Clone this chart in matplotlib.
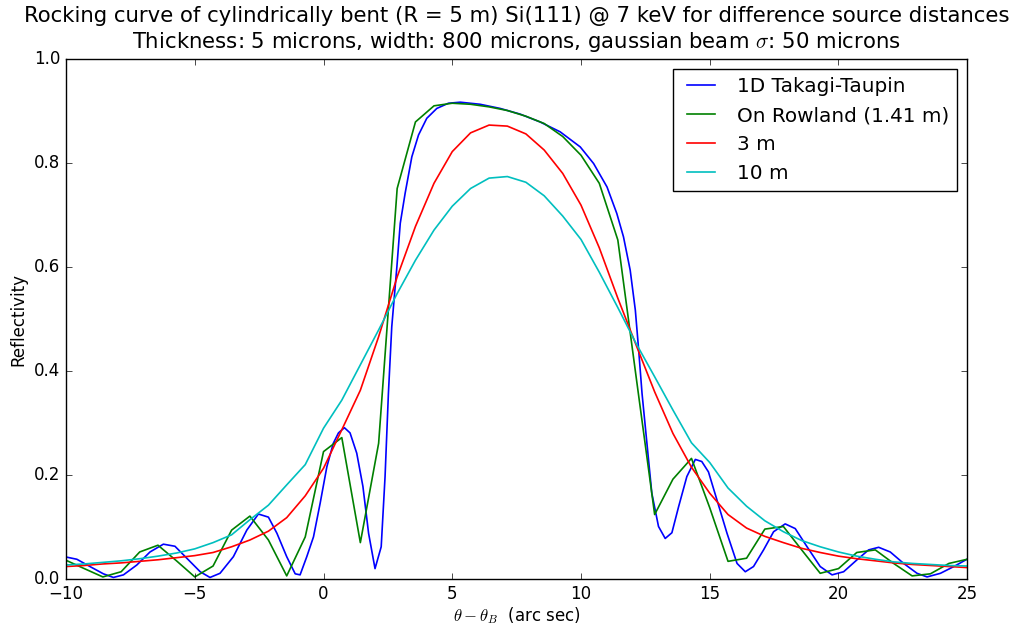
import numpy as np
import matplotlib
matplotlib.use("Agg")
import matplotlib.pyplot as plt

# ---------------- DATA ----------------
# angular grid of the 2D simulations (arc sec)
theta = [-10.00, -9.29, -8.57, -7.86, -7.14, -6.43, -5.71, -5.00, -4.29, -3.57,
         -2.86, -2.14, -1.43, -0.71, 0.00, 0.71, 1.43, 2.14, 2.86, 3.57,
         4.29, 5.00, 5.71, 6.43, 7.14, 7.86, 8.57, 9.29, 10.00, 10.71,
         11.43, 12.14, 12.86, 13.57, 14.29, 15.00, 15.71, 16.43, 17.14, 17.86,
         18.57, 19.29, 20.00, 20.71, 21.43, 22.14, 22.86, 23.57, 24.29, 25.00]

refl_rowland = [0.036, 0.020, 0.004, 0.014, 0.052, 0.065, 0.035, 0.004, 0.025, 0.094,
                0.121, 0.075, 0.006, 0.081, 0.245, 0.272, 0.070, 0.261, 0.751, 0.879,
                0.910, 0.915, 0.913, 0.908, 0.901, 0.890, 0.876, 0.851, 0.815, 0.761,
                0.652, 0.389, 0.124, 0.192, 0.232, 0.137, 0.034, 0.040, 0.096, 0.101,
                0.056, 0.011, 0.020, 0.051, 0.056, 0.030, 0.006, 0.010, 0.030, 0.038]

refl_3m = [0.024, 0.026, 0.029, 0.031, 0.034, 0.037, 0.041, 0.045, 0.051, 0.062,
           0.075, 0.092, 0.118, 0.160, 0.213, 0.287, 0.363, 0.466, 0.581, 0.678,
           0.761, 0.822, 0.858, 0.873, 0.871, 0.856, 0.825, 0.780, 0.719, 0.637,
           0.540, 0.450, 0.360, 0.280, 0.215, 0.165, 0.124, 0.098, 0.082, 0.070,
           0.059, 0.051, 0.044, 0.039, 0.035, 0.031, 0.028, 0.026, 0.024, 0.022]

refl_10m = [0.027, 0.029, 0.032, 0.035, 0.039, 0.044, 0.050, 0.058, 0.070, 0.085,
            0.114, 0.142, 0.181, 0.220, 0.290, 0.344, 0.412, 0.479, 0.549, 0.613,
            0.671, 0.717, 0.751, 0.771, 0.774, 0.763, 0.737, 0.698, 0.653, 0.590,
            0.522, 0.453, 0.389, 0.325, 0.262, 0.224, 0.175, 0.140, 0.112, 0.091,
            0.074, 0.062, 0.052, 0.044, 0.038, 0.033, 0.030, 0.028, 0.026, 0.025]

# 1D Takagi-Taupin solution (finer sampling)
theta_tt = [-9.97, -9.58, -9.07, -8.55, -8.16, -7.77, -7.25, -6.74, -6.22, -5.77,
            -5.31, -4.79, -4.41, -4.02, -3.50, -2.98, -2.53, -2.14, -1.81, -1.43,
            -1.10, -0.91, -0.65, -0.39, -0.13, 0.13, 0.38, 0.58, 0.81, 1.03,
            1.29, 1.53, 1.75, 2.00, 2.24, 2.39, 2.52, 2.65, 2.85, 2.98,
            3.17, 3.43, 3.69, 4.01, 4.40, 4.85, 5.31, 6.08, 6.86, 7.64,
            8.41, 9.19, 9.97, 10.49, 11.01, 11.39, 11.65, 11.91, 12.11, 12.24,
            12.37, 12.56, 12.75, 13.01, 13.27, 13.53, 13.79, 14.11, 14.44, 14.69,
            14.95, 15.28, 15.67, 16.06, 16.38, 16.70, 17.09, 17.48, 17.93, 18.32,
            18.78, 19.29, 19.75, 20.20, 20.72, 21.17, 21.56, 22.01, 22.53, 23.05,
            23.44, 23.96, 24.48, 24.99]
refl_tt = [0.042, 0.038, 0.024, 0.010, 0.003, 0.008, 0.027, 0.052, 0.067, 0.063,
           0.040, 0.014, 0.003, 0.011, 0.043, 0.094, 0.125, 0.119, 0.088, 0.043,
           0.010, 0.008, 0.043, 0.081, 0.146, 0.216, 0.261, 0.281, 0.291, 0.281,
           0.242, 0.178, 0.088, 0.020, 0.062, 0.197, 0.357, 0.485, 0.601, 0.684,
           0.742, 0.812, 0.854, 0.886, 0.905, 0.915, 0.917, 0.913, 0.905, 0.894,
           0.879, 0.860, 0.831, 0.799, 0.754, 0.703, 0.658, 0.594, 0.517, 0.440,
           0.357, 0.261, 0.165, 0.101, 0.078, 0.089, 0.139, 0.197, 0.230, 0.226,
           0.206, 0.152, 0.088, 0.030, 0.014, 0.024, 0.056, 0.091, 0.106, 0.097,
           0.062, 0.024, 0.008, 0.014, 0.037, 0.056, 0.061, 0.052, 0.030, 0.011,
           0.004, 0.011, 0.024, 0.038]

labels = ["1D Takagi-Taupin", "On Rowland (1.41 m)", "3 m", "10 m"]

# ---------------- PLOT ----------------
plt.style.use("classic")
fig = plt.figure(figsize=(10.16, 6.28), dpi=100, facecolor="white")
ax = fig.add_axes([0.065, 0.078, 0.887, 0.828])

lw = 1.2
ax.plot(theta_tt, refl_tt, color="b", lw=lw, label=labels[0])
ax.plot(theta, refl_rowland, color="g", lw=lw, label=labels[1])
ax.plot(theta, refl_3m, color="r", lw=lw, label=labels[2])
ax.plot(theta, refl_10m, color="c", lw=lw, label=labels[3])

ax.set_xlim(-10, 25)
ax.set_ylim(0, 1)
ax.set_xlabel(r"$\theta - \theta_B$  (arc sec)", labelpad=2)
ax.set_ylabel("Reflectivity")
ax.set_title("Rocking curve of cylindrically bent (R = 5 m) Si(111) @ 7 keV for difference source distances\n"
             r"Thickness: 5 microns, width: 800 microns, gaussian beam $\sigma$: 50 microns",
             fontsize=15.3, pad=8)
ax.legend(loc="upper right")

fig.savefig("out.png", dpi=100, facecolor="white")
